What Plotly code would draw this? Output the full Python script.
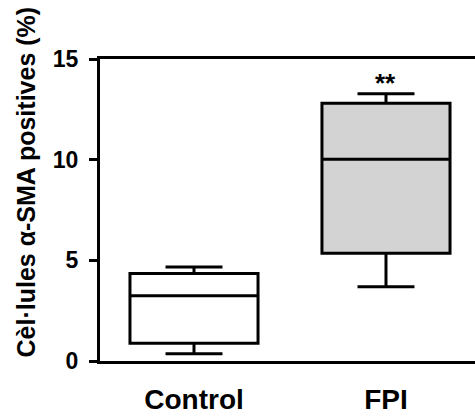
import plotly.graph_objects as go

categories = ["Control", "FPI"]
q1 = [0.88, 5.35]
median = [3.24, 10.02]
q3 = [4.34, 12.8]
lower = [0.36, 3.69]
upper = [4.67, 13.28]
fills = ["white", "#d3d3d3"]
y_ticks = [0, 5, 10, 15]
sig_label = "**"
sig_y = 13.8
y_title = "Cèl·lules α-SMA positives (%)"

# plot area in pixels
L, R, T, B = 100, 0, 59, 58
W, H = 475, 419
pw, ph = W - L - R, H - T - B

fig = go.Figure()
for i, c in enumerate(categories):
    fig.add_trace(go.Box(
        x=[c], q1=[q1[i]], median=[median[i]], q3=[q3[i]],
        lowerfence=[lower[i]], upperfence=[upper[i]],
        fillcolor=fills[i], line=dict(color="black", width=3),
        width=0.667, whiskerwidth=0.445, boxpoints=False,
        showlegend=False, hoverinfo="skip",
    ))

fig.add_annotation(x="FPI", y=sig_y, text=sig_label, showarrow=False,
                   xref="x", yref="y", yanchor="middle",
                   font=dict(family="Liberation Sans", size=26, color="black", weight="bold"))

fig.add_annotation(x=(25 - L) / pw, y=(H - B - 182.5) / ph, xref="paper", yref="paper",
                   text=y_title, showarrow=False, textangle=-90,
                   xanchor="center", yanchor="middle",
                   font=dict(family="Liberation Sans", size=25, color="black", weight="bold"))

fig.update_layout(
    width=W, height=H,
    margin=dict(l=L, r=R, t=T, b=B),
    paper_bgcolor="white", plot_bgcolor="white",
    font=dict(family="Liberation Sans", color="black"),
    xaxis=dict(type="category", categoryorder="array", categoryarray=categories,
               range=[-0.4896, 1.4636], showline=True, linewidth=3, linecolor="black",
               mirror=True, ticks="", showgrid=False, zeroline=False,
               tickfont=dict(family="Liberation Sans", size=28, weight="bold"),
               ticklabelstandoff=11),
    yaxis=dict(range=[0, 15], tickvals=y_ticks, showline=True, linewidth=3, linecolor="black",
               ticks="outside", ticklen=8, tickwidth=3, tickcolor="black",
               showgrid=False, zeroline=False,
               tickfont=dict(family="Liberation Sans", size=23, weight="bold"),
               ticklabelstandoff=6),
)

fig.write_html("out.html")
